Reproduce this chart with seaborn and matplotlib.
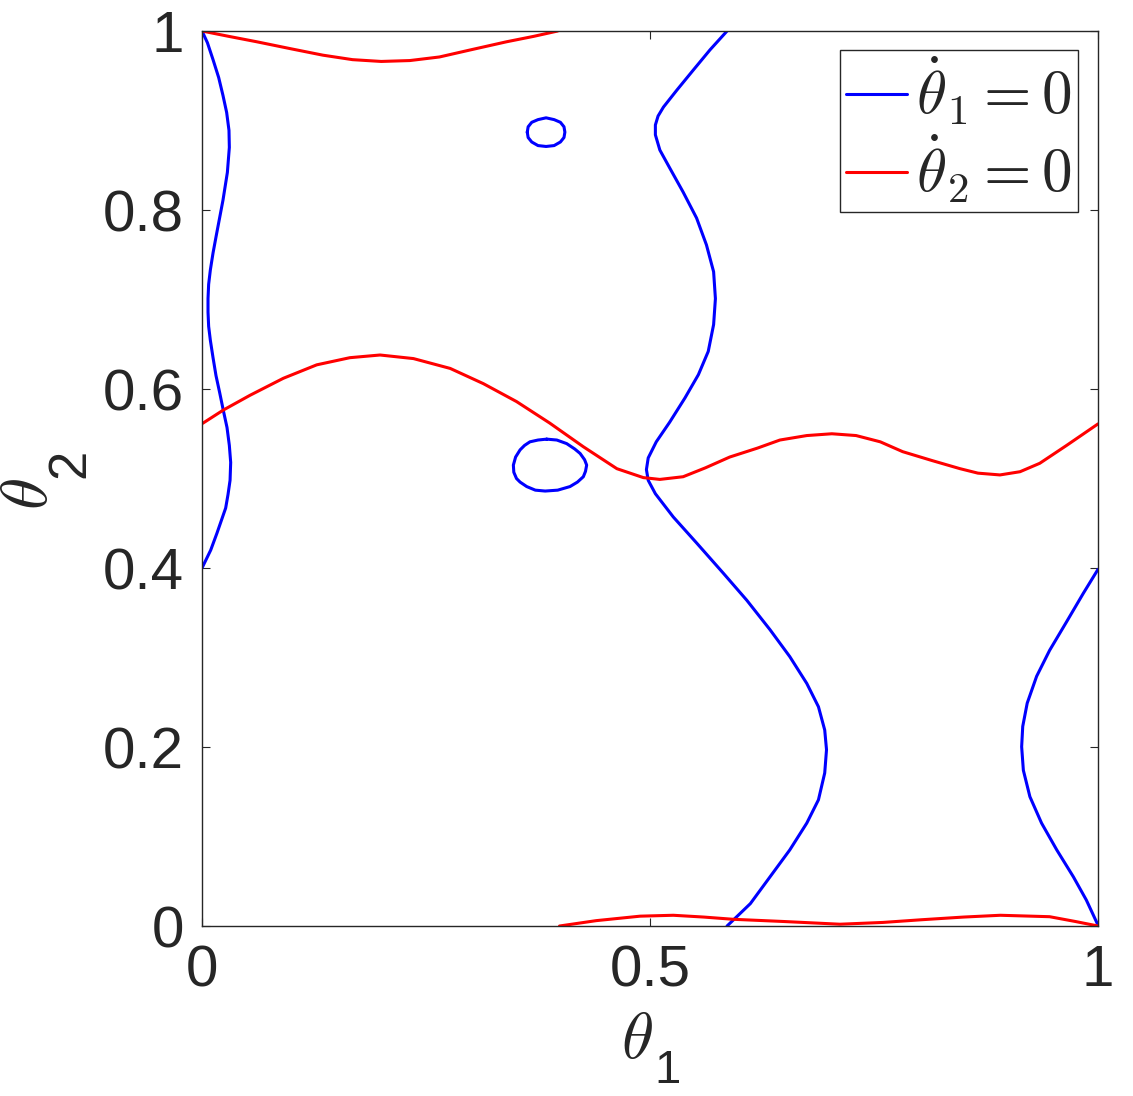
import matplotlib
matplotlib.use("Agg")
import matplotlib.pyplot as plt
import seaborn as sns
import pandas as pd

# nullcline of theta1 (blue), traced pieces
blue_left_x = [0.000, 0.006, 0.0123, 0.0186, 0.0234, 0.0275, 0.0301, 0.0305, 0.0283, 0.0234, 0.0197,
               0.016, 0.0123, 0.0093, 0.0074, 0.0067, 0.0067, 0.0074, 0.0093, 0.0123, 0.0156, 0.0197,
               0.0238, 0.0279, 0.0305, 0.032, 0.0313, 0.029, 0.0264, 0.0167, 0.0097, 0.000]
blue_left_y = [1.000, 0.987, 0.968, 0.948, 0.928, 0.909, 0.889, 0.870, 0.842, 0.811, 0.7915,
               0.772, 0.752, 0.733, 0.717, 0.701, 0.686, 0.670, 0.6545, 0.635, 0.615, 0.596,
               0.576, 0.557, 0.537, 0.518, 0.498, 0.482, 0.467, 0.439, 0.420, 0.400]

blue_main_x = [0.586, 0.567, 0.548, 0.530, 0.515, 0.509, 0.506, 0.506, 0.511, 0.522, 0.537, 0.552,
               0.563, 0.571, 0.573, 0.571, 0.565, 0.554, 0.539, 0.522, 0.507, 0.498, 0.496, 0.498,
               0.506, 0.526, 0.552, 0.582, 0.608, 0.634, 0.656, 0.675, 0.688, 0.695, 0.697, 0.695,
               0.688, 0.675, 0.656, 0.634, 0.612, 0.586]
blue_main_y = [1.000, 0.979, 0.956, 0.934, 0.915, 0.905, 0.895, 0.884, 0.867, 0.847, 0.820, 0.791,
               0.761, 0.731, 0.701, 0.672, 0.642, 0.616, 0.590, 0.563, 0.541, 0.523, 0.510, 0.498,
               0.483, 0.457, 0.428, 0.394, 0.364, 0.331, 0.301, 0.271, 0.245, 0.219, 0.197, 0.171,
               0.141, 0.115, 0.085, 0.055, 0.025, 0.000]

blue_right_x = [1.000, 0.9836, 0.965, 0.946, 0.9315, 0.921, 0.916, 0.9148, 0.9167, 0.924, 0.937,
                0.954, 0.9725, 0.987, 1.000]
blue_right_y = [0.3985, 0.3717, 0.340, 0.308, 0.279, 0.249, 0.223, 0.2003, 0.174, 0.1445, 0.115,
                0.085, 0.055, 0.029, 0.001]

blue_ring_x = [0.363, 0.364, 0.368, 0.375, 0.384, 0.393, 0.400, 0.404, 0.405, 0.404, 0.400, 0.393,
               0.384, 0.375, 0.368, 0.364, 0.363]
blue_ring_y = [0.887, 0.893, 0.898, 0.901, 0.903, 0.901, 0.898, 0.893, 0.887, 0.881, 0.876, 0.872,
               0.871, 0.872, 0.876, 0.881, 0.887]

blue_egg_x = [0.3847, 0.396, 0.407, 0.416, 0.422, 0.427, 0.4293, 0.428, 0.4256, 0.419, 0.4107,
              0.397, 0.383, 0.372, 0.3624, 0.355, 0.351, 0.348, 0.3475, 0.350, 0.355, 0.360,
              0.366, 0.375, 0.3847]
blue_egg_y = [0.544, 0.543, 0.539, 0.533, 0.528, 0.521, 0.515, 0.508, 0.502, 0.496, 0.491,
              0.487, 0.486, 0.487, 0.491, 0.496, 0.500, 0.507, 0.515, 0.524, 0.532, 0.537,
              0.541, 0.543, 0.544]

# nullcline of theta2 (red)
red_top_x = [0.000, 0.030, 0.061, 0.100, 0.135, 0.168, 0.200, 0.232, 0.265, 0.300, 0.340, 0.370, 0.397]
red_top_y = [1.000, 0.994, 0.988, 0.980, 0.973, 0.968, 0.966, 0.967, 0.971, 0.979, 0.988, 0.994, 1.000]

red_mid_x = [0.0008, 0.0238, 0.0536, 0.0908, 0.128, 0.165, 0.1987, 0.236, 0.277, 0.314, 0.351,
             0.388, 0.4256, 0.463, 0.4926, 0.511, 0.537, 0.562, 0.589, 0.620, 0.645, 0.675,
             0.703, 0.730, 0.757, 0.782, 0.815, 0.846, 0.866, 0.8906, 0.913, 0.935, 0.965, 1.000]
red_mid_y = [0.5617, 0.5765, 0.593, 0.612, 0.627, 0.635, 0.638, 0.634, 0.623, 0.606, 0.586,
             0.562, 0.5355, 0.511, 0.501, 0.499, 0.502, 0.512, 0.524, 0.534, 0.543, 0.548,
             0.550, 0.548, 0.541, 0.530, 0.520, 0.511, 0.506, 0.504, 0.5076, 0.517, 0.537, 0.561]

red_bot_x = [0.399, 0.440, 0.489, 0.526, 0.560, 0.593, 0.650, 0.712, 0.760, 0.803, 0.850, 0.891,
             0.946, 0.975, 1.000]
red_bot_y = [0.000, 0.006, 0.011, 0.012, 0.010, 0.0075, 0.005, 0.002, 0.004, 0.007, 0.010, 0.012,
             0.0104, 0.005, 0.000]

x_ticks = [0, 0.5, 1]
x_tick_labels = ["0", "0.5", "1"]
y_ticks = [0, 0.2, 0.4, 0.6, 0.8, 1]
y_tick_labels = ["0", "0.2", "0.4", "0.6", "0.8", "1"]

sns.set_style("ticks")
plt.rcParams["font.family"] = ["Liberation Sans", "DejaVu Sans"]
plt.rcParams["mathtext.fontset"] = "cm"

ink = "#262626"
fig = plt.figure(figsize=(11.33, 10.96), dpi=100)
ax = fig.add_axes([0.1783, 0.1551, 0.7908, 0.8166])

blue_parts = [(blue_left_x, blue_left_y), (blue_main_x, blue_main_y), (blue_right_x, blue_right_y),
              (blue_ring_x, blue_ring_y), (blue_egg_x, blue_egg_y)]
red_parts = [(red_top_x, red_top_y), (red_mid_x, red_mid_y), (red_bot_x, red_bot_y)]

for i, (xs, ys) in enumerate(blue_parts):
    df = pd.DataFrame({"t1": xs, "t2": ys})
    kw = {"label": r"$\dot{\theta}_1 = 0$"} if i == 0 else {}
    sns.lineplot(data=df, x="t1", y="t2", sort=False, estimator=None, color="#0000ff",
                 linewidth=2.2, ax=ax, **kw)
for i, (xs, ys) in enumerate(red_parts):
    df = pd.DataFrame({"t1": xs, "t2": ys})
    kw = {"label": r"$\dot{\theta}_2 = 0$"} if i == 0 else {}
    sns.lineplot(data=df, x="t1", y="t2", sort=False, estimator=None, color="#ff0000",
                 linewidth=2.2, ax=ax, **kw)

ax.set_xlim(0, 1)
ax.set_ylim(0, 1)
ax.set_xticks(x_ticks, x_tick_labels)
ax.set_yticks(y_ticks, y_tick_labels)
ax.tick_params(direction="in", length=6, width=0.8, color=ink, labelcolor=ink,
               labelsize=42, top=True, right=True, pad=13)
for s in ax.spines.values():
    s.set_color(ink)
    s.set_linewidth(1.0)

# axis labels: italic theta with a large upright subscript, MATLAB style
xl = ax.set_xlabel(r"$\theta$", fontsize=47, color=ink)
ax.xaxis.set_label_coords(0.4855, -0.095)
ax.annotate("1", xy=(1, 0), xycoords=xl, xytext=(1, 16), textcoords="offset points",
            ha="left", va="top", fontsize=34, color=ink)

yl = ax.set_ylabel(r"$\theta$", fontsize=47, color=ink)
ax.yaxis.set_label_coords(-0.158, 0.483)
ax.annotate("2", xy=(1, 1), xycoords=yl, xytext=(-11, 0), textcoords="offset points",
            ha="left", va="bottom", rotation=90, fontsize=38, color=ink)

leg = ax.legend(loc="upper right", bbox_to_anchor=(0.978, 0.979), borderaxespad=0,
                fontsize=44, frameon=True, fancybox=False, handlelength=1.0,
                handletextpad=0.15, labelspacing=0.1, borderpad=0.1)
leg.get_frame().set_edgecolor(ink)
leg.get_frame().set_linewidth(1.0)
leg.get_frame().set_alpha(1)

fig.savefig("out.png", dpi=100)
